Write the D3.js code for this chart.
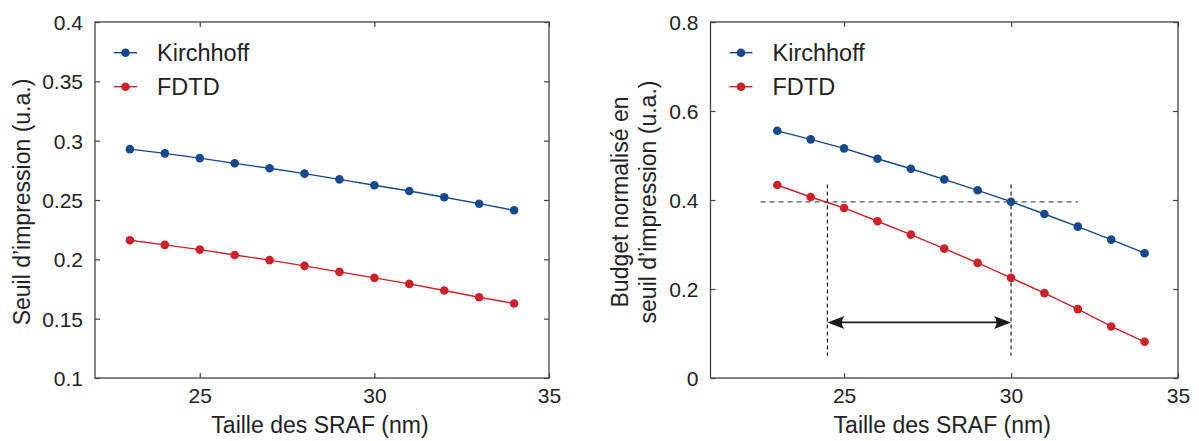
<!DOCTYPE html>
<html>
<head>
<meta charset="utf-8">
<script src="https://cdn.jsdelivr.net/npm/d3@7"></script>
<style>
  html, body { margin: 0; padding: 0; background: #fff; }
  svg { display: block; font-family: "Liberation Sans", Arial, sans-serif; }
</style>
</head>
<body>
<svg id="chart" width="1199" height="441"></svg>
<script>
// ---------- data ----------
const sizes = [23, 24, 25, 26, 27, 28, 29, 30, 31, 32, 33, 34];
const seriesNames = ["Kirchhoff", "FDTD"];
const seriesColors = ["#15488c", "#cc2229"];

// left panel: Seuil d'impression (u.a.)
const seuilKirchhoff = [0.2929, 0.2893, 0.2853, 0.2809, 0.2767, 0.2722, 0.2674, 0.2624, 0.2576, 0.2523, 0.2469, 0.2413];
const seuilFDTD      = [0.2161, 0.2122, 0.2082, 0.2037, 0.1993, 0.1945, 0.1894, 0.1844, 0.1793, 0.1737, 0.1681, 0.1628];

// right panel: Budget normalisé en seuil d'impression (u.a.)
const budgetKirchhoff = [0.5555, 0.5362, 0.5160, 0.4927, 0.4702, 0.4464, 0.4218, 0.3962, 0.3686, 0.3401, 0.3109, 0.2804];
const budgetFDTD      = [0.4337, 0.4067, 0.3821, 0.3522, 0.3222, 0.2907, 0.2587, 0.2250, 0.1907, 0.1548, 0.1158, 0.0814];

// axis ticks
const xTicks = [25, 30, 35];
const leftYTicks = [0.1, 0.15, 0.2, 0.25, 0.3, 0.35, 0.4];
const rightYTicks = [0, 0.2, 0.4, 0.6, 0.8];

// annotation on right panel
const refLevel = 0.396;          // horizontal dashed level
const refLevelX = [22.5, 32];    // extent of horizontal dashed line
const refSizes = [24.5, 30];     // vertical dashed lines / arrow ends
const refVertY = [0.05, 0.435];  // extent of vertical dashed lines
const arrowY = 0.125;

const xLabel = "Taille des SRAF (nm)";
const leftYLabel = ["Seuil d\u2019impression (u.a.)"];
const rightYLabel = ["Budget normalisé en", "seuil d\u2019impression (u.a.)"];

// ---------- drawing ----------
const svg = d3.select("#chart");
const frameColor = "#444";
const textColor = "#222";

function panel(cfg) {
  const g = svg.append("g");
  const x = d3.scaleLinear().domain(cfg.xDomain).range([cfg.left, cfg.right]);
  const y = d3.scaleLinear().domain(cfg.yDomain).range([cfg.bottom, cfg.top]);
  const tickLen = 5;
  const fmt = d3.format(".2~f");

  // inward ticks on all four sides
  const axB = d3.axisBottom(x).tickValues(xTicks).tickSizeInner(-tickLen).tickSizeOuter(0).tickFormat(d3.format("d")).tickPadding(10);
  const axT = d3.axisTop(x).tickValues(xTicks).tickSizeInner(-tickLen).tickSizeOuter(0).tickFormat("");
  const axL = d3.axisLeft(y).tickValues(cfg.yTicks).tickSizeInner(-tickLen).tickSizeOuter(0).tickFormat(fmt).tickPadding(12);
  const axR = d3.axisRight(y).tickValues(cfg.yTicks).tickSizeInner(-tickLen).tickSizeOuter(0).tickFormat("");

  const style = sel => {
    sel.select(".domain").remove();
    sel.selectAll(".tick line").attr("stroke", frameColor).attr("stroke-width", 1.2);
    sel.selectAll(".tick text").attr("fill", textColor).style("font-size", "21px").style("font-family", "Liberation Sans, Arial, sans-serif");
  };
  g.append("g").attr("transform", `translate(0,${cfg.bottom})`).call(axB).call(style)
    .selectAll(".tick text").attr("dy", "0.71em");
  g.append("g").attr("transform", `translate(0,${cfg.top})`).call(axT).call(style);
  g.append("g").attr("transform", `translate(${cfg.left},0)`).call(axL).call(style)
    .selectAll(".tick text").attr("dy", "0.36em");
  g.append("g").attr("transform", `translate(${cfg.right},0)`).call(axR).call(style);

  // frame
  g.append("rect")
    .attr("x", cfg.left).attr("y", cfg.top)
    .attr("width", cfg.right - cfg.left).attr("height", cfg.bottom - cfg.top)
    .attr("fill", "none").attr("stroke", frameColor).attr("stroke-width", 1.3);

  // annotations (drawn beneath series)
  if (cfg.annot) cfg.annot(g, x, y);

  // series
  const line = d3.line().x((d, i) => x(sizes[i])).y(d => y(d));
  cfg.series.forEach((vals, k) => {
    g.append("path").datum(vals).attr("d", line)
      .attr("fill", "none").attr("stroke", seriesColors[k]).attr("stroke-width", 1.4);
    g.append("g").selectAll("circle").data(vals).join("circle")
      .attr("cx", (d, i) => x(sizes[i])).attr("cy", d => y(d)).attr("r", 4.3)
      .attr("fill", seriesColors[k]);
  });

  // legend
  seriesNames.forEach((name, k) => {
    const ly = 52.7 + k * 34;
    const lx = cfg.left + 19;
    g.append("line").attr("x1", lx).attr("x2", lx + 23).attr("y1", ly).attr("y2", ly)
      .attr("stroke", seriesColors[k]).attr("stroke-width", 1.4);
    g.append("circle").attr("cx", lx + 11.5).attr("cy", ly).attr("r", 4.3).attr("fill", seriesColors[k]);
    g.append("text").attr("x", lx + 43).attr("y", ly + 7.8)
      .attr("fill", textColor).style("font-size", "23.5px").text(name);
  });

  // x label
  g.append("text").attr("x", (cfg.left + cfg.right) / 2 - 2).attr("y", 433)
    .attr("text-anchor", "middle").attr("fill", textColor).style("font-size", "23px").text(xLabel);

  // y label
  cfg.yLabel.forEach((t, i) => {
    const bx = cfg.yLabelX[i];
    g.append("text").attr("transform", `translate(${bx},202) rotate(-90)`)
      .attr("text-anchor", "middle").attr("fill", textColor).style("font-size", "23px").text(t);
  });
}

panel({
  left: 95, right: 549, top: 22, bottom: 378,
  xDomain: [22, 35], yDomain: [0.1, 0.4], yTicks: leftYTicks,
  series: [seuilKirchhoff, seuilFDTD],
  yLabel: leftYLabel, yLabelX: [30]
});

panel({
  left: 710.5, right: 1178, top: 22, bottom: 378,
  xDomain: [21, 35], yDomain: [0, 0.8], yTicks: rightYTicks,
  series: [budgetKirchhoff, budgetFDTD],
  yLabel: rightYLabel, yLabelX: [628, 656],
  annot: (g, x, y) => {
    g.append("line")
      .attr("x1", x(refLevelX[0])).attr("x2", x(refLevelX[1]))
      .attr("y1", y(refLevel)).attr("y2", y(refLevel))
      .attr("stroke", "#555").attr("stroke-width", 1.2).attr("stroke-dasharray", "5,4");
    refSizes.forEach(s => {
      g.append("line")
        .attr("x1", x(s)).attr("x2", x(s))
        .attr("y1", y(refVertY[1])).attr("y2", y(refVertY[0]))
        .attr("stroke", "#111").attr("stroke-width", 1.1).attr("stroke-dasharray", "4,3");
    });
    // double-headed arrow
    const ax0 = x(refSizes[0]), ax1 = x(refSizes[1]), ay = y(arrowY);
    g.append("line").attr("x1", ax0 + 8).attr("x2", ax1 - 8).attr("y1", ay).attr("y2", ay)
      .attr("stroke", "#1a1a1a").attr("stroke-width", 1.8);
    const L = 17, H = 6.5;
    g.append("path")
      .attr("d", `M${ax0},${ay} L${ax0 + L},${ay - H} Q${ax0 + L * 0.7},${ay} ${ax0 + L},${ay + H} Z`)
      .attr("fill", "#1a1a1a");
    g.append("path")
      .attr("d", `M${ax1},${ay} L${ax1 - L},${ay - H} Q${ax1 - L * 0.7},${ay} ${ax1 - L},${ay + H} Z`)
      .attr("fill", "#1a1a1a");
  }
});
</script>
</body>
</html>
